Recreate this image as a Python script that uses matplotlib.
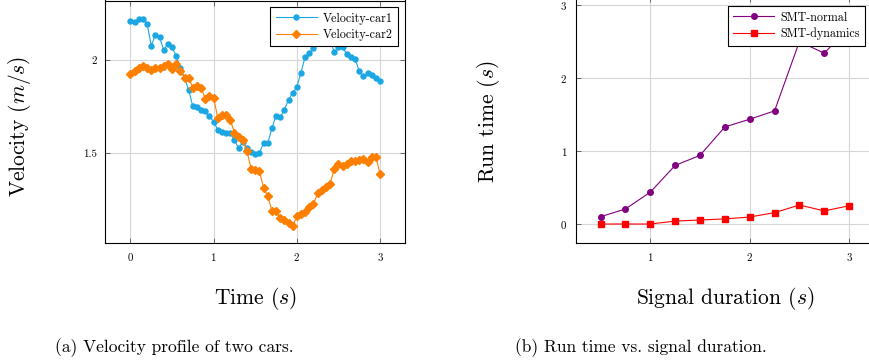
import matplotlib
matplotlib.use("Agg")
import matplotlib.pyplot as plt
import numpy as np

plt.rcParams['font.family'] = 'serif'
plt.rcParams['font.serif'] = ['cmr10', 'DejaVu Serif']
plt.rcParams['mathtext.fontset'] = 'cm'
plt.rcParams['axes.formatter.use_mathtext'] = True

# velocity profile, sampled every 0.05 s
time = np.arange(61) * 0.05
car1 = [2.207, 2.203, 2.217, 2.217, 2.194, 2.076, 2.134, 2.121, 2.053, 2.085,
        2.067, 2.022, 1.958, 1.904, 1.837, 1.750, 1.746, 1.732, 1.723, 1.696,
        1.668, 1.623, 1.610, 1.609, 1.605, 1.569, 1.524, 1.560, 1.524, 1.505,
        1.493, 1.500, 1.554, 1.551, 1.632, 1.701, 1.692, 1.732, 1.786, 1.822,
        1.855, 1.931, 2.018, 2.036, 2.062, 2.095, 2.110, 2.120, 2.100, 2.043,
        2.067, 2.067, 2.031, 2.013, 2.004, 1.940, 1.913, 1.928, 1.917, 1.904,
        1.886]
car2 = [1.922, 1.940, 1.958, 1.967, 1.958, 1.944, 1.958, 1.958, 1.967, 1.976,
        1.949, 1.976, 1.940, 1.904, 1.904, 1.850, 1.862, 1.850, 1.790, 1.804,
        1.795, 1.687, 1.705, 1.705, 1.678, 1.609, 1.587, 1.569, 1.511, 1.415,
        1.406, 1.402, 1.312, 1.270, 1.188, 1.188, 1.152, 1.138, 1.125, 1.107,
        1.161, 1.174, 1.185, 1.207, 1.225, 1.283, 1.301, 1.315, 1.333, 1.415,
        1.442, 1.428, 1.442, 1.457, 1.457, 1.460, 1.469, 1.451, 1.478, 1.478,
        1.388]

# run time vs signal duration
duration = [0.5, 0.75, 1.0, 1.25, 1.5, 1.75, 2.0, 2.25, 2.5, 2.75, 3.0]
smt_normal = [0.10, 0.206, 0.436, 0.803, 0.94, 1.33, 1.436, 1.55, 2.50, 2.34, 2.70]
smt_dynamics = [0.0, 0.0, 0.0, 0.04, 0.055, 0.07, 0.096, 0.156, 0.26, 0.18, 0.25]

left_xticks = [0, 1, 2, 3]
left_yticks = [1.5, 2]
left_ylabels = ['1.5', '2']
right_xticks = [1, 2, 3]
right_yticks = [0, 1, 2, 3]

W, H = 870, 362
fig = plt.figure(figsize=(W / 100, H / 100), dpi=100)


def px_axes(l, t, r, b):
    return fig.add_axes([l / W, (H - b) / H, (r - l) / W, (b - t) / H])


def style(ax):
    ax.grid(True, color='#d6d6d6', lw=0.8)
    ax.set_axisbelow(True)
    ax.tick_params(direction='in', length=3.5, width=0.6, color='#555555',
                   top=True, right=True, labelsize=7.8, pad=6)
    for s in ax.spines.values():
        s.set_linewidth(0.8)
        s.set_color('black')


def legend(ax, anchor):
    leg = ax.legend(loc='upper right', bbox_to_anchor=anchor, borderaxespad=0,
                    fontsize=8.7, fancybox=False, framealpha=1, edgecolor='black',
                    handlelength=3.4, handletextpad=0.5, labelspacing=0.35,
                    borderpad=0.45, numpoints=1)
    leg.get_frame().set_linewidth(0.8)


# (a)
ax1 = px_axes(105.5, 0.5, 405, 243)
style(ax1)
ax1.plot(time, car1, color='#1AA7E3', marker='o', ms=3.6, lw=0.8, label='Velocity-car1')
ax1.plot(time, car2, color='#FF7F00', marker='D', ms=4.5, lw=0.8, label='Velocity-car2')
ax1.set_xlim(-0.3, 3.3)
ax1.set_ylim(1.016, 2.319)
ax1.set_xticks(left_xticks)
ax1.set_yticks(left_yticks, labels=left_ylabels)
ax1.set_xlabel('Time ($s$)', fontsize=15.5)
ax1.set_ylabel('Velocity ($m/s$)', fontsize=15.5)
ax1.xaxis.set_label_coords(0.5, -0.175)
ax1.yaxis.set_label_coords(-0.242, 0.48)
legend(ax1, (0.977, 0.973))

# (b)
ax2 = px_axes(575.7, -3, 874, 243)
style(ax2)
ax2.plot(duration, smt_normal, color='#800080', marker='o', ms=4, lw=0.8, label='SMT-normal')
ax2.plot(duration, smt_dynamics, color='#FF0000', marker='s', ms=4, lw=0.8, label='SMT-dynamics')
ax2.set_xlim(0.25, 3.25)
ax2.set_ylim(-0.26, 3.11)
ax2.set_xticks(right_xticks)
ax2.set_yticks(right_yticks)
ax2.set_xlabel('Signal duration ($s$)', fontsize=15.5)
ax2.set_ylabel('Run time ($s$)', fontsize=15.5)
ax2.xaxis.set_label_coords(0.5, -0.172)
ax2.yaxis.set_label_coords(-0.247, 0.495)
legend(ax2, (0.970, 0.963))

fig.text(55 / W, (H - 352) / H, '(a) Velocity profile of two cars.', fontsize=12.5,
         ha='left', va='baseline')
fig.text(515 / W, (H - 352) / H, '(b) Run time vs. signal duration.', fontsize=12.5,
         ha='left', va='baseline')

fig.savefig('out.png', dpi=100)
